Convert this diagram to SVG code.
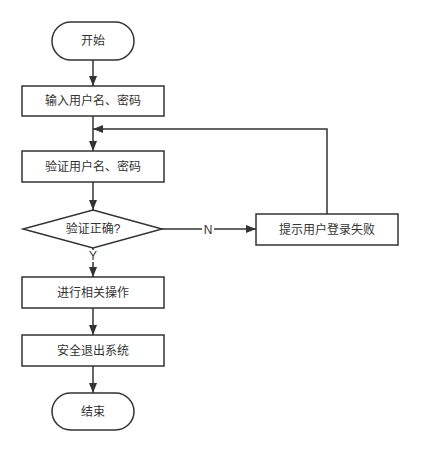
<svg xmlns="http://www.w3.org/2000/svg" width="421" height="453" viewBox="0 0 421 453">
<style>
.n{fill:#fff;stroke:#333;stroke-width:1.5}
.t{font-family:"Liberation Sans","Noto Sans CJK SC",sans-serif;font-size:12px;fill:#333;text-anchor:middle;dominant-baseline:central}
.c{fill:none;stroke:#333;stroke-width:1.5}
.lb{fill:#fff}
</style>
<defs>
<marker id="a" viewBox="0 0 10 10" refX="10" refY="5" markerWidth="10" markerHeight="10" markerUnits="userSpaceOnUse" orient="auto">
<path d="M0,1 L10,5 L0,9 Z" fill="#333"/>
</marker>
</defs>
<rect width="421" height="453" fill="#fff"/>
<g id="connectors">
<path class="c" d="M93,60 V86" marker-end="url(#a)"/>
<path class="c" d="M93,116 V151" marker-end="url(#a)"/>
<path class="c" d="M327,214 V129 H93" marker-end="url(#a)"/>
<path class="c" d="M93,182 V210" marker-end="url(#a)"/>
<path class="c" d="M162,229 H256" marker-end="url(#a)"/>
<path class="c" d="M93,248 V277" marker-end="url(#a)"/>
<path class="c" d="M93,308 V335" marker-end="url(#a)"/>
<path class="c" d="M93,366 V393" marker-end="url(#a)"/>
<rect class="lb" x="202" y="223" width="12" height="13"/>
<text class="t" x="208" y="230">N</text>
<rect class="lb" x="87" y="250" width="12" height="12"/>
<text class="t" x="93" y="256">Y</text>
</g>
<g id="start"><rect class="n" x="52" y="22" width="82" height="38" rx="19"/><text class="t" x="93" y="41">开始</text></g>
<g id="input"><rect class="n" x="22" y="86" width="142" height="30"/><text class="t" x="93" y="101">输入用户名、密码</text></g>
<g id="verify"><rect class="n" x="22" y="151" width="142" height="31"/><text class="t" x="93" y="166.5">验证用户名、密码</text></g>
<g id="check"><path class="n" d="M93,210 L162,229 L93,248 L23,229 Z"/><text class="t" x="93" y="229">验证正确?</text></g>
<g id="fail"><rect class="n" x="256" y="214" width="142" height="31"/><text class="t" x="327" y="229.5">提示用户登录失败</text></g>
<g id="operate"><rect class="n" x="22" y="277" width="142" height="31"/><text class="t" x="93" y="292.5">进行相关操作</text></g>
<g id="exit"><rect class="n" x="22" y="335" width="142" height="31"/><text class="t" x="93" y="350.5">安全退出系统</text></g>
<g id="end"><rect class="n" x="52" y="393" width="82" height="37" rx="18.5"/><text class="t" x="93" y="411.5">结束</text></g>
</svg>
